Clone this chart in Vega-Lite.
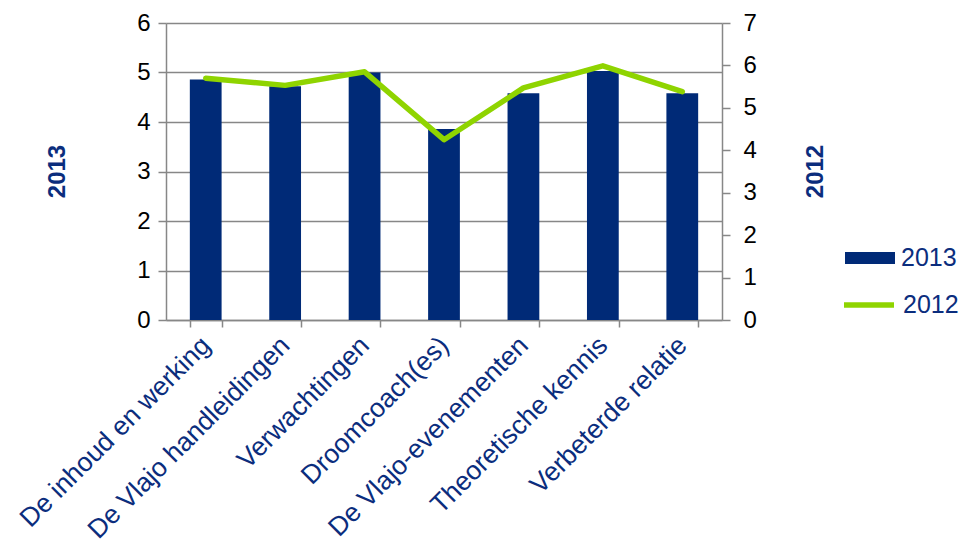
{
  "$schema": "https://vega.github.io/schema/vega-lite/v6.json",
  "width": 556,
  "height": 297,
  "autosize": {"type": "none"},
  "padding": {"left": 166, "top": 23, "right": 242, "bottom": 225},
  "config": {"view": {"stroke": null}, "font": "Liberation Sans"},
  "data": {
    "values": [
      {"cat": "De inhoud en werking", "v2013": 4.86, "v2012": 5.70},
      {"cat": "De Vlajo handleidingen", "v2013": 4.72, "v2012": 5.53},
      {"cat": "Verwachtingen", "v2013": 5.0, "v2012": 5.85},
      {"cat": "Droomcoach(es)", "v2013": 3.86, "v2012": 4.25},
      {"cat": "De Vlajo-evenementen", "v2013": 4.58, "v2012": 5.47},
      {"cat": "Theoretische kennis", "v2013": 5.03, "v2012": 5.99},
      {"cat": "Verbeterde relatie", "v2013": 4.58, "v2012": 5.38}
    ]
  },
  "encoding": {
    "x": {
      "field": "cat",
      "type": "nominal",
      "sort": null,
      "title": null,
      "scale": {"paddingInner": 0.6, "paddingOuter": 0.3},
      "axis": {
        "tickBand": "extent",
        "domainColor": "#878787",
        "domainWidth": 1.5,
        "tickColor": "#878787",
        "tickWidth": 1.5,
        "tickSize": 7,
        "labelAngle": -45,
        "labelAlign": "right",
        "labelBaseline": "middle",
        "labelFontSize": 26.5,
        "labelColor": "#0b2d7d",
        "labelPadding": 14,
        "labelLimit": 400
      }
    }
  },
  "layer": [
    {
      "mark": {"type": "bar", "color": "#002a77"},
      "encoding": {
        "y": {
          "field": "v2013",
          "type": "quantitative",
          "scale": {"domain": [0, 6], "nice": false},
          "axis": {
            "values": [0, 1, 2, 3, 4, 5, 6],
            "title": "2013",
            "titleFontSize": 24,
            "titleFontWeight": "bold",
            "titleColor": "#0b2d7d",
            "titleX": -109,
            "titleY": 148,
            "titleAngle": -90,
            "titleAlign": "center",
            "titleBaseline": "middle",
            "grid": true,
            "gridColor": "#878787",
            "gridWidth": 1.5,
            "domainColor": "#878787",
            "domainWidth": 1.5,
            "tickColor": "#878787",
            "tickWidth": 1.5,
            "tickSize": 8,
            "labelFontSize": 24,
            "labelColor": "#000000",
            "labelPadding": 8
          }
        },
        "color": {
          "datum": "2013",
          "scale": {"range": ["#002a77"]},
          "legend": {
            "title": null,
            "orient": "none",
            "legendX": 679,
            "legendY": 210,
            "padding": 0,
            "symbolType": "M-1,-0.24H1V0.24H-1Z",
            "symbolSize": 2500,
            "symbolStrokeWidth": 0,
            "symbolOpacity": 1,
            "labelFontSize": 25,
            "labelColor": "#0b2d7d",
            "labelOffset": 6
          }
        }
      }
    },
    {
      "mark": {"type": "line", "strokeWidth": 5.5, "strokeCap": "round", "strokeJoin": "round"},
      "encoding": {
        "y": {
          "field": "v2012",
          "type": "quantitative",
          "scale": {"domain": [0, 7], "nice": false},
          "axis": {
            "orient": "right",
            "values": [0, 1, 2, 3, 4, 5, 6, 7],
            "title": "2012",
            "titleFontSize": 24,
            "titleFontWeight": "bold",
            "titleColor": "#0b2d7d",
            "titleX": 93,
            "titleY": 148,
            "titleAngle": -90,
            "titleAlign": "center",
            "titleBaseline": "middle",
            "grid": false,
            "domainColor": "#878787",
            "domainWidth": 1.5,
            "tickColor": "#878787",
            "tickWidth": 1.5,
            "tickSize": 8,
            "labelFontSize": 24,
            "labelColor": "#000000",
            "labelPadding": 13
          }
        },
        "color": {
          "datum": "2012",
          "scale": {"range": ["#8fd400"]},
          "legend": {
            "title": null,
            "orient": "none",
            "legendX": 675,
            "legendY": 254,
            "padding": 0,
            "symbolType": "stroke",
            "symbolSize": 2500,
            "symbolStrokeWidth": 5.5,
            "labelFontSize": 25,
            "labelColor": "#0b2d7d",
            "labelOffset": 6
          }
        }
      }
    }
  ],
  "resolve": {"scale": {"y": "independent", "color": "independent"}}
}
